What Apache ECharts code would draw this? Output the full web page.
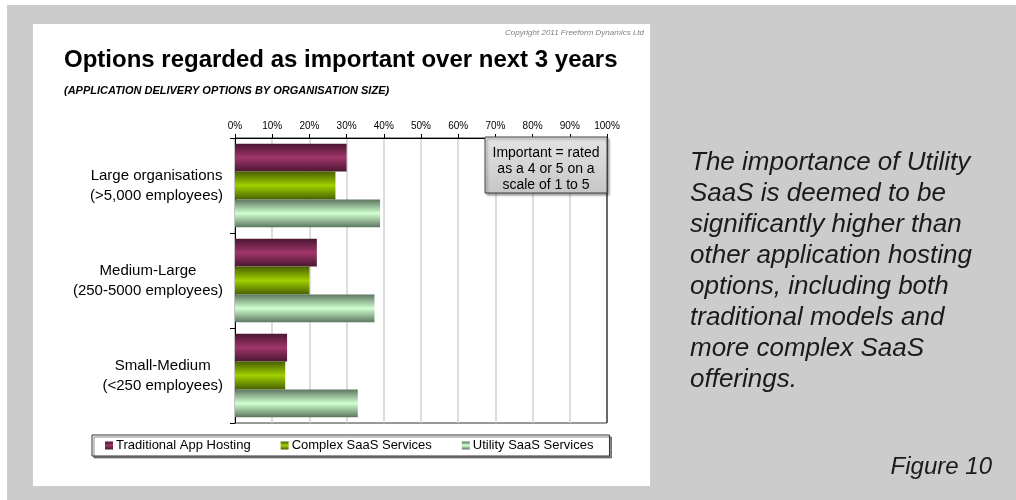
<!DOCTYPE html>
<html>
<head>
<meta charset="utf-8">
<script src="https://cdn.jsdelivr.net/npm/echarts@6/dist/echarts.min.js"></script>
<style>
  html, body { margin: 0; padding: 0; background: #ffffff; }
  #chart { width: 1016px; height: 500px; }
</style>
</head>
<body>
<div id="chart"></div>
<script>
// Organisation size bands (top to bottom)
const categories = [
  'Large organisations\n(>5,000 employees)',
  'Medium-Large\n(250-5000 employees)',
  'Small-Medium\n(<250 employees)'
];
// Share rating each option as important (%)
const traditionalHosting = [30, 22, 14];
const complexSaaS = [27, 20, 13.5];
const utilitySaaS = [39, 37.5, 33];
const seriesNames = ['Traditional App Hosting', 'Complex SaaS Services', 'Utility SaaS Services'];
const axisTicks = [0, 10, 20, 30, 40, 50, 60, 70, 80, 90, 100];

const FONT = '"Liberation Sans", Arial, sans-serif';

// Banded fill: dark edges, bright centre line
function band(edge, mid) {
  return new echarts.graphic.LinearGradient(0, 0, 0, 1, [
    { offset: 0, color: edge },
    { offset: 0.5, color: mid },
    { offset: 1, color: edge }
  ]);
}

const chart = echarts.init(document.getElementById('chart'), null, { renderer: 'canvas' });

// Light grid lines, darker closing line at 100%
const gridColors = axisTicks.map((t, i) => i === axisTicks.length - 1 ? '#5a5a5a' : '#d2d2d2');

chart.setOption({
  backgroundColor: '#ffffff',
  animation: false,
  textStyle: { fontFamily: FONT },
  title: [
    {
      text: 'Options regarded as important over next 3 years',
      left: 64, top: 48, padding: 0,
      textStyle: { fontFamily: FONT, fontSize: 24, fontWeight: 'bold', color: '#000' }
    },
    {
      text: '(APPLICATION DELIVERY OPTIONS BY ORGANISATION SIZE)',
      left: 64, top: 85, padding: 0,
      textStyle: { fontFamily: FONT, fontSize: 11, fontWeight: 'bold', fontStyle: 'italic', color: '#000' }
    },
    {
      text: 'Copyright 2011 Freeform Dynamics Ltd',
      right: 372, top: 29, padding: 0,
      textStyle: { fontFamily: FONT, fontSize: 8, fontStyle: 'italic', fontWeight: 'normal', color: '#808080' }
    },
    {
      text: 'The importance of Utility\nSaaS is deemed to be\nsignificantly higher than\nother application hosting\noptions, including both\ntraditional models and\nmore complex SaaS\nofferings.',
      left: 690, top: 147, padding: 0,
      textStyle: { fontFamily: FONT, fontSize: 26, fontStyle: 'italic', fontWeight: 'normal', color: '#1a1a1a', lineHeight: 31 }
    },
    {
      text: 'Figure 10',
      right: 24, top: 455, padding: 0,
      textStyle: { fontFamily: FONT, fontSize: 24, fontStyle: 'italic', fontWeight: 'normal', color: '#1a1a1a' }
    }
  ],
  graphic: [
    { type: 'rect', z: -10, shape: { x: 7, y: 5, width: 1009, height: 495 }, style: { fill: '#cccccc' } },
    { type: 'rect', z: -9, shape: { x: 33, y: 24, width: 617, height: 462 }, style: { fill: '#ffffff' } },
    {
      type: 'rect', z: 100, shape: { x: 485, y: 137, width: 122, height: 56 },
      style: {
        fill: new echarts.graphic.LinearGradient(0, 0, 0, 1, [
          { offset: 0, color: '#e4e4e4' }, { offset: 1, color: '#c6c6c6' }
        ]),
        stroke: '#404040', lineWidth: 1,
        shadowColor: 'rgba(0,0,0,0.35)', shadowOffsetX: 2, shadowOffsetY: 2, shadowBlur: 2
      }
    },
    {
      type: 'text', z: 101, x: 546, y: 145,
      style: {
        text: 'Important = rated\nas a 4 or 5 on a\nscale of 1 to 5',
        font: '14px ' + FONT, fill: '#000', align: 'center', verticalAlign: 'top', lineHeight: 16
      }
    }
  ],
  legend: {
    data: seriesNames,
    left: 92, top: 435,
    padding: [4, 16, 4, 13],
    itemGap: 30,
    itemWidth: 8, itemHeight: 8,
    icon: 'rect',
    backgroundColor: '#ffffff',
    borderColor: '#333333', borderWidth: 1,
    shadowColor: 'rgba(0,0,0,0.45)', shadowOffsetX: 2, shadowOffsetY: 2, shadowBlur: 0,
    textStyle: { fontFamily: FONT, fontSize: 13, color: '#000', padding: [0, 0, 0, -2] }
  },
  grid: {
    left: 235, right: 409, top: 138, bottom: 77,
    show: true, borderColor: '#333333', borderWidth: 1, backgroundColor: 'transparent'
  },
  xAxis: {
    type: 'value', position: 'top',
    min: 0, max: 100, interval: 10,
    axisLine: { show: true, lineStyle: { color: '#000', width: 1 } },
    axisTick: { show: true, length: 4, lineStyle: { color: '#000' } },
    axisLabel: { formatter: '{value}%', fontFamily: FONT, fontSize: 10, color: '#000', margin: 7 },
    splitLine: { show: true, lineStyle: { color: gridColors, width: 1.5 } }
  },
  yAxis: {
    type: 'category', inverse: true,
    data: categories,
    axisLine: { show: true, lineStyle: { color: '#000', width: 1 } },
    axisTick: { show: true, length: 5, lineStyle: { color: '#000' } },
    axisLabel: {
      margin: 12, align: 'right', fontFamily: FONT, fontSize: 15, color: '#000', lineHeight: 20,
      formatter: v => v.split('\n').map(s => '{c|' + s + '}').join('\n'),
      rich: { c: { align: 'center', fontFamily: FONT, fontSize: 15, color: '#000', lineHeight: 20 } }
    }
  },
  series: [
    { name: seriesNames[0], type: 'bar', data: traditionalHosting, barGap: '0%', barCategoryGap: '12%',
      itemStyle: { color: band('#4a1731', '#a0356a') } },
    { name: seriesNames[1], type: 'bar', data: complexSaaS, barGap: '0%', barCategoryGap: '12%',
      itemStyle: { color: band('#4a6000', '#9fd000') } },
    { name: seriesNames[2], type: 'bar', data: utilitySaaS, barGap: '0%', barCategoryGap: '12%',
      itemStyle: { color: band('#5c765f', '#d0ffd0') } }
  ]
});
</script>
</body>
</html>
